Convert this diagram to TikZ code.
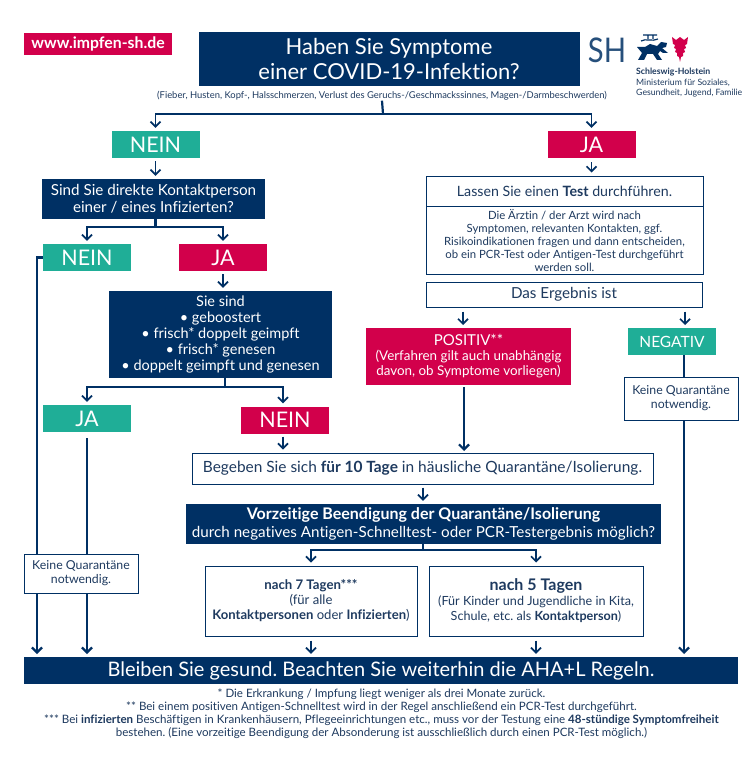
\documentclass[tikz,border=0pt]{standalone}
\usepackage{fontspec}
\setmainfont[Ligatures=NoCommon]{Lato}
\frenchspacing
\usepackage{tikz}
\usetikzlibrary{arrows.meta,calc,positioning}
\definecolor{navy}{HTML}{003064}
\definecolor{crimson}{HTML}{D2004B}
\definecolor{teal}{HTML}{1FAE97}
\definecolor{ink}{HTML}{1E3A5F}
\newfontfamily\shfont[FakeStretch=0.86]{Lato}
\tikzset{
  navybox/.style={fill=navy,text=white,align=center,inner sep=0pt},
  redbox/.style={fill=crimson,text=white,align=center,inner sep=0pt},
  tealbox/.style={fill=teal,text=white,align=center,inner sep=0pt},
  linebox/.style={draw=navy,fill=white,text=ink,line width=1pt,align=center,inner sep=0pt},
  tagbox/.style={minimum width=88,minimum height=27,font=\fontsize{21.5}{24}\selectfont},
  conn/.style={draw=navy,line width=2.2pt},
  thinconn/.style={draw=navy,line width=1.7pt,shorten >=3pt},
  gapconn/.style={thinconn,shorten <=3pt},
  note/.style={text=ink,align=center,inner sep=0pt}
}
\begin{document}
\begin{tikzpicture}[>={Straight Barb[length=5pt,width=10pt]},x=1pt,y=-1pt]
\useasboundingbox (0,0) rectangle (755,757);
\fill[white] (0,0) rectangle (755,757);
\node[redbox,minimum width=148,minimum height=22,font=\fontsize{15.8}{17}\selectfont\bfseries] (url) at (98,44) {www.impfen-sh.de};
\node[navybox,minimum width=381,minimum height=54,font=\fontsize{22}{25}\selectfont] (frage) at (389,59) {Haben Sie Symptome\\einer COVID-19-Infektion?};
\node[note,font=\fontsize{9.4}{11}\selectfont] (symptome) at (382,96) {(Fieber, Husten, Kopf-, Halsschmerzen, Verlust des Geruchs-/Geschmackssinnes, Magen-/Darmbeschwerden)};
% logo
\node[text=navy!85,inner sep=0pt,font=\shfont\fontsize{34}{34}\selectfont] (sh) at (607,50) {SH};
\fill[navy] (638,60) -- (642,53) -- (637,47) -- (645,47) -- (650,44) -- (657,46) -- (661,42) -- (667,43) -- (666,47) -- (662,48) -- (668,53) -- (663,53) -- (660,51) -- (658,54) -- (662,60) -- (657,60) -- (653,54) -- (647,54) -- (644,60) -- cycle;
\draw[navy,line width=1.2pt] (643,35) -- (657,35) (648,35) -- (648,39) (653,35) -- (653,39) (641,41) .. controls (646,38) and (652,42) .. (658,39);
\fill[crimson] (672,37) -- (676,40) -- (680,37) -- (684,40) -- (688,37) -- (687,44) -- (685,45) -- (686,48) -- (684,49) -- (685,52) -- (683,53) -- (683,56) -- (681,57) -- (680,62) -- (679,57) -- (677,56) -- (677,53) -- (675,52) -- (676,49) -- (674,48) -- (675,45) -- (673,44) -- cycle;
\node[note,anchor=north west,align=left,font=\fontsize{8.7}{10.6}\selectfont] (land) at (636,68) {\textbf{Schleswig-Holstein}\\Ministerium für Soziales,\\Gesundheit, Jugend, Familie};
% linker Ast
\foreach \name/\xx/\yy/\lab/\sty in {nein1/155.5/144.5/NEIN/tealbox,ja1/591.5/144.5/JA/redbox,nein2/87/257.5/NEIN/tealbox,ja2/223/257.5/JA/redbox,ja3/87/418.5/JA/tealbox,nein3/285/420/NEIN/redbox}{
  \node[\sty,tagbox] (\name) at (\xx,\yy) {\lab};
}
\node[navybox,minimum width=223,minimum height=40,font=\fontsize{15.2}{17}\selectfont] (kontakt) at (153.5,199) {Sind Sie direkte Kontaktperson\\einer / eines Infizierten?};
\node[navybox,minimum width=223,minimum height=87,font=\fontsize{14.5}{16.2}\selectfont] (sind) at (220.5,334.5) {Sie sind\\• geboostert\\• frisch* doppelt geimpft\\• frisch* genesen\\• doppelt geimpft und genesen};
\coordinate (ast1) at (383,114);
\coordinate (ast2) at ($(nein1.south |- kontakt.south)+(0,8)$);
\coordinate (ast3) at (225,387);
\coordinate (ast3r) at (283,387);
\coordinate (links) at (37,654);
\coordinate (mitte) at (87,654);
\coordinate (rechts) at (684,654);
\draw[conn] (symptome.south) -- (ast1);
\draw[thinconn,->] (ast1) -| (nein1);
\draw[thinconn,->] (ast1) -| (ja1);
\draw[gapconn,->] (nein1.south) -- (nein1.south |- kontakt.north);
\draw[conn] (kontakt.south -| ast2) -- (ast2);
\draw[thinconn,->] (ast2) -| (nein2);
\draw[thinconn,->] (ast2) -| (ja2);
\draw[gapconn,->] (ja2.south) -- (ja2.south |- sind.north);
\draw[conn] (sind.south -| ast3) -- (ast3);
\draw[thinconn,->] (ast3) -| (ja3);
\draw[thinconn,->] (ast3) -- (ast3r) -- (ast3r |- nein3.north);
\draw[conn,->] (nein2.west) -| (links);
\draw[conn,shorten <=6pt,->] (ja3.south) -- (mitte);
\node[linebox,minimum width=114,minimum height=39,font=\fontsize{12.3}{14}\selectfont] (keine1) at (81,573.5) {Keine Quarantäne\\notwendig.};
% rechter Ast
\node[linebox,minimum width=277,minimum height=30,font=\fontsize{14.2}{16}\selectfont] (test) at (564.5,191) {Lassen Sie einen \textbf{Test} durchführen.};
\node[linebox,minimum width=277,minimum height=68,font=\fontsize{11.35}{13}\selectfont] (arzt) at (564.5,240) {Die Ärztin / der Arzt wird nach\\Symptomen, relevanten Kontakten, ggf.\\Risikoindikationen fragen und dann entscheiden,\\ob ein PCR-Test oder Antigen-Test durchgeführt\\werden soll.};
\node[linebox,minimum width=276,minimum height=25,font=\fontsize{15.2}{17}\selectfont] (ergebnis) at (564,294.5) {Das Ergebnis ist};
\node[redbox,minimum width=205,minimum height=57,font=\fontsize{13.4}{15}\selectfont] (positiv) at (468.5,356.5) {{\fontsize{15}{16}\selectfont POSITIV**}\\(Verfahren gilt auch unabhängig\\davon, ob Symptome vorliegen)};
\node[tealbox,tagbox,font=\fontsize{15.5}{17}\selectfont] (negativ) at (672,341.5) {NEGATIV};
\coordinate (erg1) at (463,328);
\coordinate (erg2) at (685,328);
\draw[gapconn,shorten <=4pt,->] (ja1.south) -- (ja1.south |- test.north);
\draw[gapconn,shorten <=4pt,->] (ergebnis.south -| erg1) -- (erg1);
\draw[gapconn,shorten <=4pt,->] (ergebnis.south -| erg2) -- (erg2);
\draw[conn,->] (negativ.south -| rechts) -- (rechts);
\node[linebox,minimum width=114,minimum height=43,font=\fontsize{12.3}{14}\selectfont] (keine2) at (681,398.5) {Keine Quarantäne\\notwendig.};
% Quarantaene
\node[linebox,minimum width=461,minimum height=31,font=\fontsize{15.45}{17}\selectfont] (begeben) at (422.5,468.5) {Begeben Sie sich \textbf{für 10 Tage} in häusliche Quarantäne/Isolierung.};
\node[navybox,minimum width=475,minimum height=40,font=\fontsize{15.2}{18}\selectfont] (vorzeitig) at (423.5,524) {{\fontsize{16}{18}\selectfont\textbf{Vorzeitige Beendigung der Quarantäne/Isolierung}}\\durch negatives Antigen-Schnelltest- oder PCR-Testergebnis möglich?};
\node[linebox,minimum width=212,minimum height=70,font=\fontsize{13.1}{15}\selectfont] (tage7) at (311,601) {{\fontsize{13.2}{17}\selectfont\textbf{nach 7 Tagen***}}\\(für alle\\\textbf{Kontaktpersonen} oder \textbf{Infizierten})};
\node[linebox,minimum width=214,minimum height=70,font=\fontsize{12.6}{15}\selectfont] (tage5) at (536,601) {{\fontsize{16}{17}\selectfont\textbf{nach 5 Tagen}}\\(Für Kinder und Jugendliche in Kita,\\Schule, etc. als \textbf{Kontaktperson})};
\node[navybox,minimum width=714,minimum height=27,font=\fontsize{20}{22}\selectfont] (bleiben) at (381,670.5) {Bleiben Sie gesund. Beachten Sie weiterhin die AHA+L Regeln.};
\coordinate (pos) at (464,453);
\coordinate (ast4) at (423,550);
\draw[conn,shorten <=2pt,shorten >=2pt,->] (positiv.south -| pos) -- (pos);
\draw[gapconn,->] (nein3.south -| ast3r) -- (ast3r |- begeben.north);
\draw[gapconn,->] (begeben.south -| ast4) -- (ast4 |- vorzeitig.north);
\draw[conn] (vorzeitig.south -| ast4) -- (ast4);
\draw[thinconn,->] (ast4) -| (tage7);
\draw[thinconn,->] (ast4) -| (tage5);
\draw[gapconn,shorten <=4pt,->] (tage7.south) -- (tage7.south |- bleiben.north);
\draw[gapconn,shorten <=4pt,->] (tage5.south) -- (tage5.south |- bleiben.north);
\node[note,font=\fontsize{11.55}{13}\selectfont] (fussnote) at (381.5,713.5) {* Die Erkrankung / Impfung liegt weniger als drei Monate zurück.\\** Bei einem positiven Antigen-Schnelltest wird in der Regel anschließend ein PCR-Test durchgeführt.\\*** Bei \textbf{infizierten} Beschäftigen in Krankenhäusern, Pflegeeinrichtungen etc., muss vor der Testung eine \textbf{48-stündige Symptomfreiheit}\\bestehen. (Eine vorzeitige Beendigung der Absonderung ist ausschließlich durch einen PCR-Test möglich.)};
\end{tikzpicture}
\end{document}
